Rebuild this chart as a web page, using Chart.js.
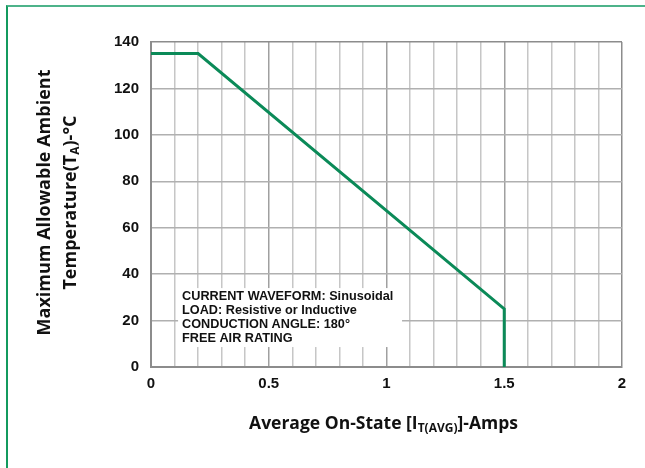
<!DOCTYPE html>
<html>
<head>
<meta charset="utf-8">
<script src="https://cdn.jsdelivr.net/npm/chart.js@4/dist/chart.umd.min.js"></script>
<style>
  html, body { margin: 0; padding: 0; background: #fff; }
  #wrap { position: relative; width: 645px; height: 468px; }
  #frame { position: absolute; left: 6px; top: 5px; right: 0; bottom: 0;
           border-top: 2px solid #4db38a; border-left: 2px solid #139a5e; pointer-events: none; }
</style>
</head>
<body>
<div id="wrap">
  <canvas id="chartCanvas" width="645" height="468"></canvas>
  <div id="frame"></div>
</div>
<script>
// derating curve
const currentAmps = [0, 0.2, 1.5, 1.5];
const ambientTemp = [135, 135, 25, 0];
const xTickLabels = ["0", "0.5", "1", "1.5", "2"];
const yTicks = [0, 20, 40, 60, 80, 100, 120, 140];
const noteLines = [
    "CURRENT WAVEFORM: Sinusoidal",
    "LOAD: Resistive or Inductive",
    "CONDUCTION ANGLE: 180°",
    "FREE AIR RATING"
];

// draw text pieces, some of them as subscript, centred on x
function drawRich(ctx, parts, x, y, size) {
    const main = "bold " + size + "px 'Open Sans'";
    const sub = "bold " + Math.round(size * 0.68) + "px 'Open Sans'";
    let total = 0;
    parts.forEach(p => {
        ctx.font = p.sub ? sub : main;
        p.w = ctx.measureText(p.t).width;
        total += p.w;
    });
    let cx = x - total / 2;
    ctx.textAlign = "left";
    ctx.textBaseline = "middle";
    parts.forEach(p => {
        ctx.font = p.sub ? sub : main;
        ctx.fillText(p.t, cx, p.sub ? y + 5 : y);
        cx += p.w;
    });
}

const extrasPlugin = {
    id: "extras",
    beforeDatasetsDraw(chart) {
        // note box over the grid
        const ctx = chart.ctx;
        const xs = chart.scales.x, ys = chart.scales.y;
        const left = xs.getPixelForValue(0.115), right = xs.getPixelForValue(1.066);
        const top = ys.getPixelForValue(34), bottom = ys.getPixelForValue(8.6);
        ctx.save();
        ctx.fillStyle = "#fff";
        ctx.fillRect(left, top, right - left, bottom - top);
        ctx.fillStyle = "#111";
        ctx.font = "bold 12.7px 'Liberation Sans'";
        ctx.textAlign = "left";
        ctx.textBaseline = "middle";
        noteLines.forEach((s, i) => ctx.fillText(s, left + 4, top + 8 + i * 14));
        ctx.restore();
    },
    afterDraw(chart) {
        const ctx = chart.ctx;
        const area = chart.chartArea;
        ctx.save();
        ctx.fillStyle = "#111";
        drawRich(ctx, [{ t: "Average On-State [I" }, { t: "T(AVG)", sub: true }, { t: "]-Amps" }],
            (area.left + area.right) / 2 - 3, 424, 17.5);
        ctx.translate(0, (area.top + area.bottom) / 2 - 2);
        ctx.rotate(-Math.PI / 2);
        drawRich(ctx, [{ t: "Maximum Allowable Ambient" }], 0, 45, 18);
        drawRich(ctx, [{ t: "Temperature(T" }, { t: "A", sub: true }, { t: ")-°C" }], 0, 71, 18);
        ctx.restore();
    }
};

const ctx = document.getElementById("chartCanvas").getContext("2d");
new Chart(ctx, {
    type: "scatter",
    data: {
        datasets: [{
            data: currentAmps.map((a, i) => ({ x: a, y: ambientTemp[i] })),
            showLine: true,
            borderColor: "#0b8a58",
            borderWidth: 3,
            pointRadius: 0,
            fill: false
        }]
    },
    options: {
        responsive: false,
        animation: false,
        layout: { padding: { top: 42, right: 23, left: 0, bottom: 0 } },
        plugins: { legend: { display: false }, tooltip: { enabled: false } },
        scales: {
            x: {
                type: "linear",
                min: 0, max: 2,
                afterFit: s => { s.height = 101; },
                afterBuildTicks: s => {
                    s.ticks = [];
                    for (let i = 0; i <= 20; i++) s.ticks.push({ value: i / 10 });
                },
                ticks: {
                    autoSkip: false,
                    maxRotation: 0,
                    padding: 8,
                    color: "#111",
                    font: { family: "'Liberation Sans'", size: 15, weight: "bold" },
                    callback: v => {
                        const k = Math.round(v * 10);
                        return k % 5 === 0 ? xTickLabels[k / 5] : "";
                    }
                },
                grid: {
                    drawTicks: false,
                    lineWidth: 1.5,
                    color: c => {
                        const k = Math.round(c.tick.value * 10);
                        if (k === 0 || k === 20) return "#8c8c8c";
                        return k % 5 === 0 ? "#a0a0a0" : "#c6c6c6";
                    }
                },
                border: { color: "#8c8c8c", width: 2 }
            },
            y: {
                min: 0, max: 140,
                afterFit: s => { s.width = 151; },
                afterBuildTicks: s => { s.ticks = yTicks.map(v => ({ value: v })); },
                ticks: {
                    padding: 12,
                    color: "#111",
                    font: { family: "'Liberation Sans'", size: 15, weight: "bold" }
                },
                grid: {
                    drawTicks: false,
                    lineWidth: 1.5,
                    color: c => (c.tick.value === 140 ? "#8c8c8c" : "#b0b0b0")
                },
                border: { color: "#8c8c8c", width: 2 }
            }
        }
    },
    plugins: [extrasPlugin]
});
</script>
</body>
</html>
